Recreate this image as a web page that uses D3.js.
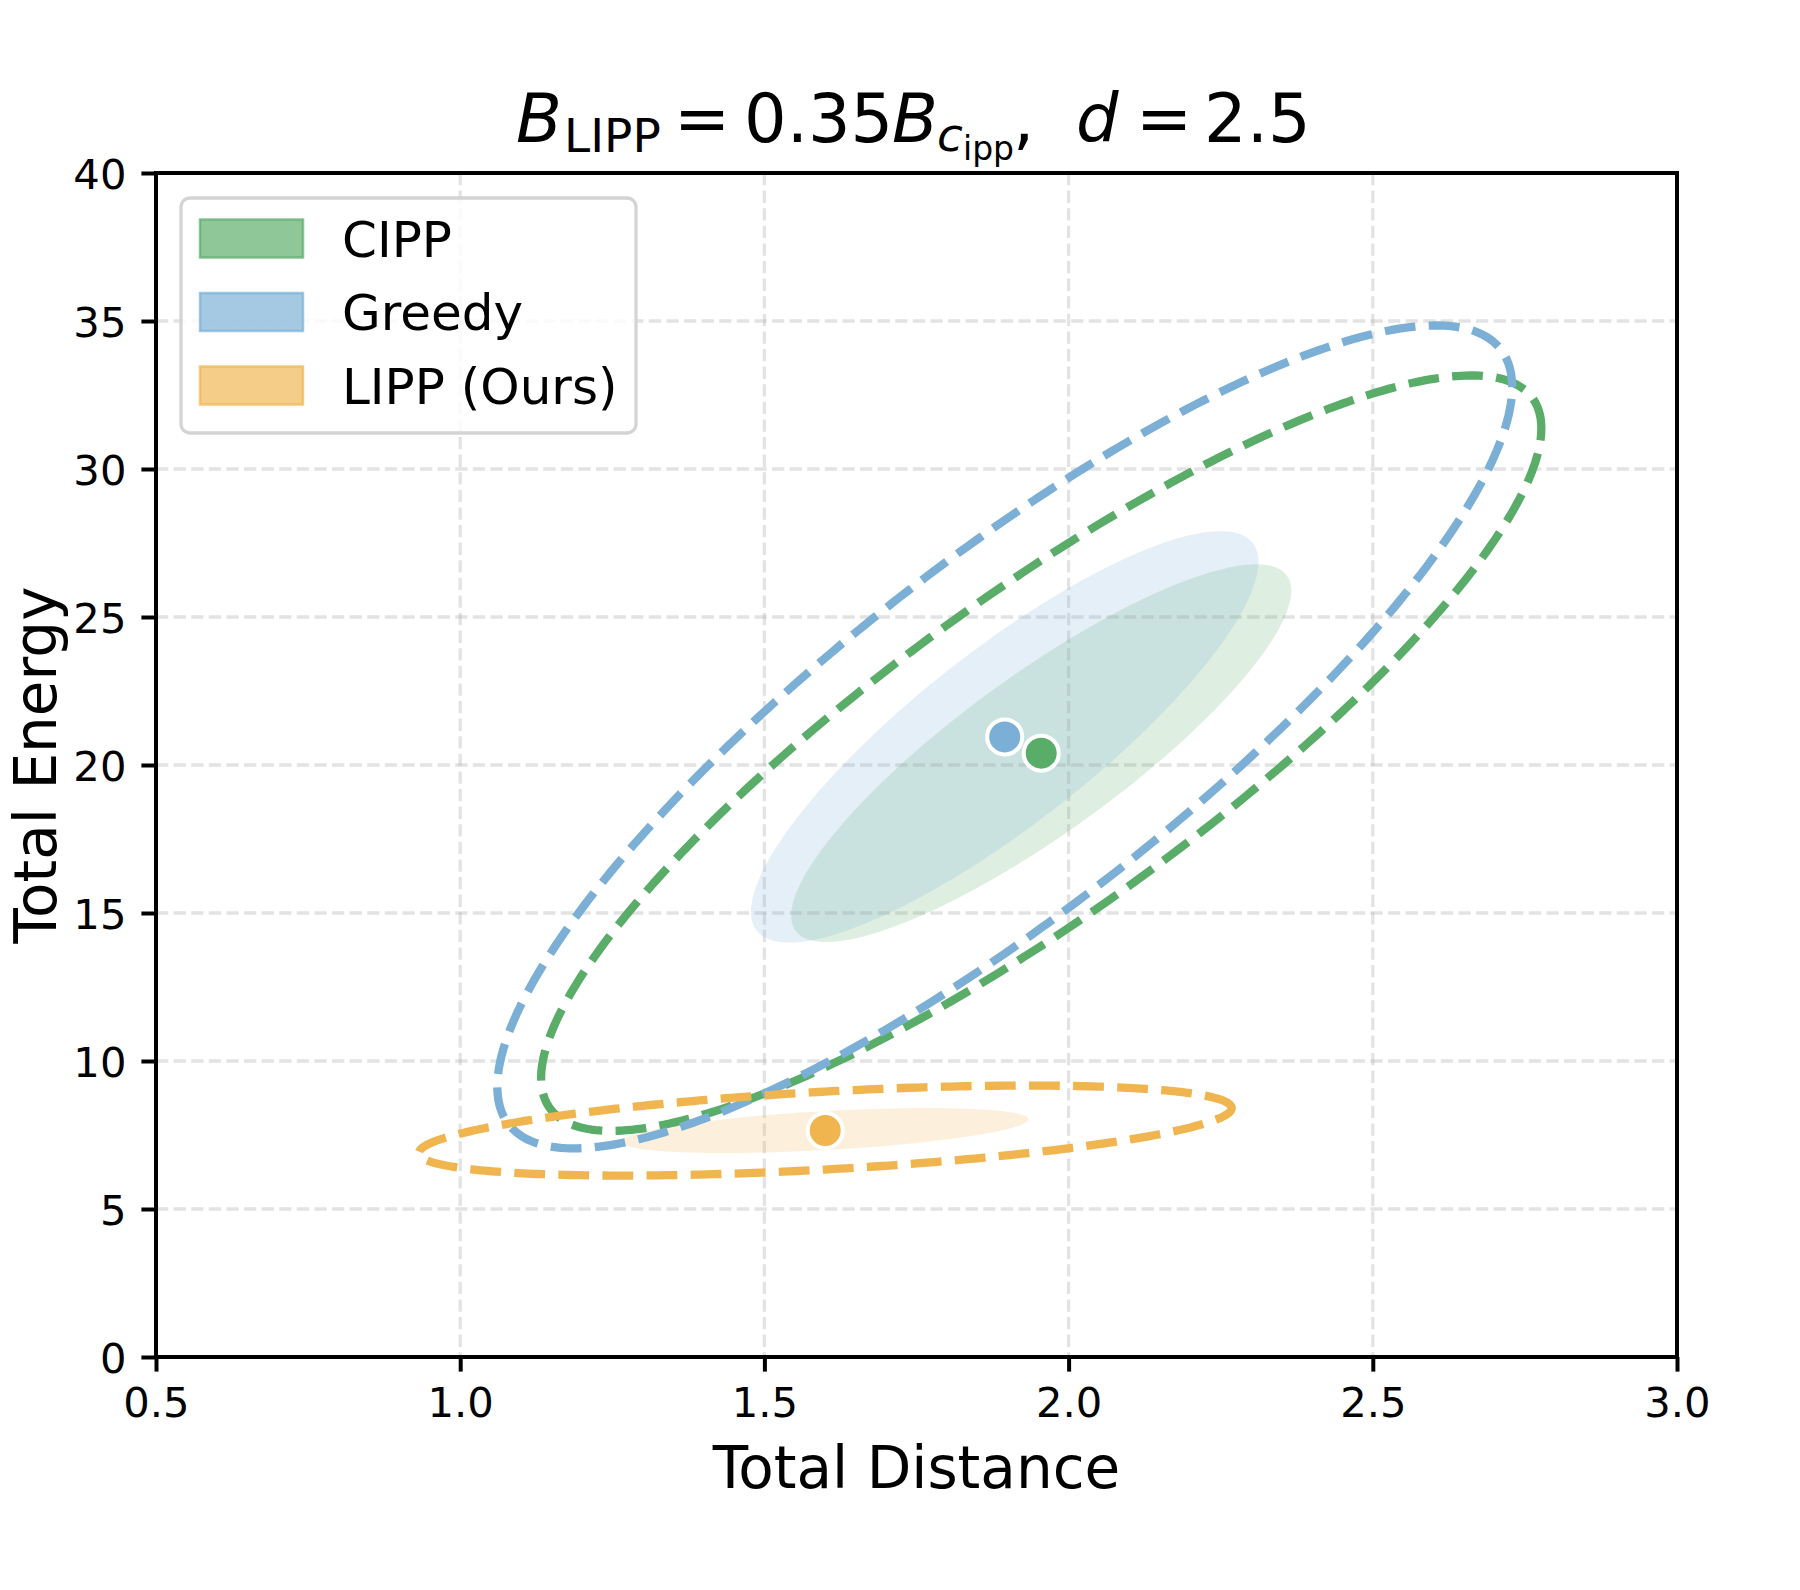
<!DOCTYPE html>
<html>
<head>
<meta charset="utf-8">
<script src="https://cdn.jsdelivr.net/npm/d3@7"></script>
<style>
  html, body { margin: 0; padding: 0; background: #ffffff; }
  svg { display: block; }
  text { font-family: "DejaVu Sans", sans-serif; fill: #000; }
</style>
</head>
<body>
<svg id="chart" width="1800" height="1590"></svg>
<script>
// ---------------- data ----------------
const methods = ["CIPP", "Greedy", "LIPP (Ours)"];
const colors  = ["#5aad69", "#7bafd5", "#f0b54f"];
const meanX   = [1.955, 1.895, 1.600];   // Total Distance mean
const meanY   = [20.40, 20.95, 7.65];    // Total Energy mean
const stdX    = [0.411, 0.417, 0.334];
const stdY    = [6.38, 6.95, 0.76];
const rho     = [0.86, 0.85, 0.50];
const innerK  = 1;   // filled ellipse (1 sigma)
const outerK  = 2;   // dashed ellipse (2 sigma)
const pointOrder = [1, 0, 2];            // drawing order of mean markers
const xTicks  = [0.5, 1.0, 1.5, 2.0, 2.5, 3.0];
const yTicks  = [0, 5, 10, 15, 20, 25, 30, 35, 40];
const xDomain = [0.5, 3.0];
const yDomain = [0, 40];

// ---------------- layout ----------------
const svg = d3.select("#chart");
const L = 156, R = 1677, T = 173, B = 1357;
const x = d3.scaleLinear().domain(xDomain).range([L, R]);
const y = d3.scaleLinear().domain(yDomain).range([B, T]);

svg.append("rect").attr("width", 1800).attr("height", 1590).attr("fill", "#fff");

svg.append("clipPath").attr("id", "plotclip")
  .append("rect").attr("x", L).attr("y", T).attr("width", R - L).attr("height", B - T);

// grid
const grid = svg.append("g").attr("stroke", "#b0b0b0").attr("stroke-opacity", 0.35)
  .attr("stroke-width", 3.3).attr("stroke-dasharray", "12.3,5.3");
grid.selectAll("line.gx").data(xTicks.slice(1, -1)).join("line")
  .attr("x1", d => x(d)).attr("x2", d => x(d)).attr("y1", T).attr("y2", B);
grid.selectAll("line.gy").data(yTicks.slice(1, -1)).join("line")
  .attr("y1", d => y(d)).attr("y2", d => y(d)).attr("x1", L).attr("x2", R);

// ellipse generator in data space
function ellipsePts(i, k) {
  const n = 360, pts = [];
  const s = Math.sqrt(1 - rho[i] * rho[i]);
  for (let j = 0; j < n; j++) {
    const t = 2 * Math.PI * j / n;
    const dx = k * stdX[i] * Math.cos(t);
    const dy = k * stdY[i] * (rho[i] * Math.cos(t) + s * Math.sin(t));
    pts.push([meanX[i] + dx, meanY[i] + dy]);
  }
  return pts;
}
const line = d3.line().x(d => x(d[0])).y(d => y(d[1])).curve(d3.curveLinearClosed);

const plot = svg.append("g").attr("clip-path", "url(#plotclip)");
const idx = methods.map((_, i) => i);

// filled 1-sigma ellipses
plot.selectAll("path.fill").data(idx).join("path")
  .attr("d", i => line(ellipsePts(i, innerK)))
  .attr("fill", i => colors[i]).attr("fill-opacity", 0.2).attr("stroke", "none");

// dashed 2-sigma ellipses
plot.selectAll("path.dash").data(idx).join("path")
  .attr("d", i => line(ellipsePts(i, outerK)))
  .attr("fill", "none").attr("stroke", i => colors[i])
  .attr("stroke-width", 8.3).attr("stroke-dasharray", "30.8,13.3");

// mean markers
plot.selectAll("circle.mean").data(pointOrder).join("circle")
  .attr("cx", i => x(meanX[i])).attr("cy", i => y(meanY[i])).attr("r", 17.5)
  .attr("fill", i => colors[i]).attr("stroke", "#fff").attr("stroke-width", 4);

// axes
const xAxis = svg.append("g").attr("transform", `translate(0,${B})`)
  .call(d3.axisBottom(x).tickValues(xTicks).tickFormat(d3.format(".1f")).tickSize(14.6).tickPadding(16));
const yAxis = svg.append("g").attr("transform", `translate(${L},0)`)
  .call(d3.axisLeft(y).tickValues(yTicks).tickFormat(d3.format("d")).tickSize(14.6).tickPadding(15));
[xAxis, yAxis].forEach(a => {
  a.select(".domain").remove();
  a.selectAll(".tick line").attr("stroke", "#000").attr("stroke-width", 4);
  a.selectAll(".tick text").attr("font-family", "DejaVu Sans").attr("font-size", 41.7).attr("fill", "#000");
});
yAxis.selectAll(".tick text").attr("dy", "0.36em");

// spines
svg.append("rect").attr("x", L).attr("y", T).attr("width", R - L).attr("height", B - T)
  .attr("fill", "none").attr("stroke", "#000").attr("stroke-width", 4);

// axis labels
svg.append("text").attr("x", (L + R) / 2).attr("y", 1488).attr("text-anchor", "middle")
  .attr("font-size", 58).text("Total Distance");
svg.append("text").attr("transform", `translate(56,${(T + B) / 2}) rotate(-90)`)
  .attr("text-anchor", "middle").attr("font-size", 58).text("Total Energy");

// title (mathtext-like)
const title = svg.append("text").attr("font-size", 67);
const parts = [
  { t: "B", x: 516, y: 142, s: 67, it: true },
  { t: "LIPP", x: 564, y: 152, s: 47, it: false },
  { t: "=", x: 674, y: 142, s: 67, it: false },
  { t: "0.35", x: 744, y: 142, s: 67, it: false },
  { t: "B", x: 892, y: 142, s: 67, it: true },
  { t: "c", x: 937, y: 151, s: 47, it: true },
  { t: "ipp", x: 963, y: 160, s: 33, it: false },
  { t: ",", x: 1013, y: 142, s: 67, it: false },
  { t: "d", x: 1076, y: 142, s: 67, it: true },
  { t: "=", x: 1136, y: 142, s: 67, it: false },
  { t: "2.5", x: 1204, y: 142, s: 67, it: false }
];
parts.forEach(p => {
  title.append("tspan").attr("x", p.x).attr("y", p.y).attr("font-size", p.s)
    .attr("font-style", p.it ? "italic" : "normal").text(p.t);
});

// legend
const lg = svg.append("g");
lg.append("rect").attr("x", 181).attr("y", 198).attr("width", 455).attr("height", 235)
  .attr("rx", 9).attr("fill", "#fff").attr("fill-opacity", 0.8)
  .attr("stroke", "#d4d4d4").attr("stroke-width", 3.3);
const rowY = [238.5, 312, 385.5];
idx.forEach(i => {
  lg.append("rect").attr("x", 200).attr("y", rowY[i] - 19).attr("width", 103).attr("height", 38)
    .attr("fill", colors[i]).attr("fill-opacity", 0.68)
    .attr("stroke", colors[i]).attr("stroke-opacity", 0.7).attr("stroke-width", 2.5);
  lg.append("text").attr("x", 342).attr("y", rowY[i] + 18).attr("font-size", 50).text(methods[i]);
});
</script>
</body>
</html>
